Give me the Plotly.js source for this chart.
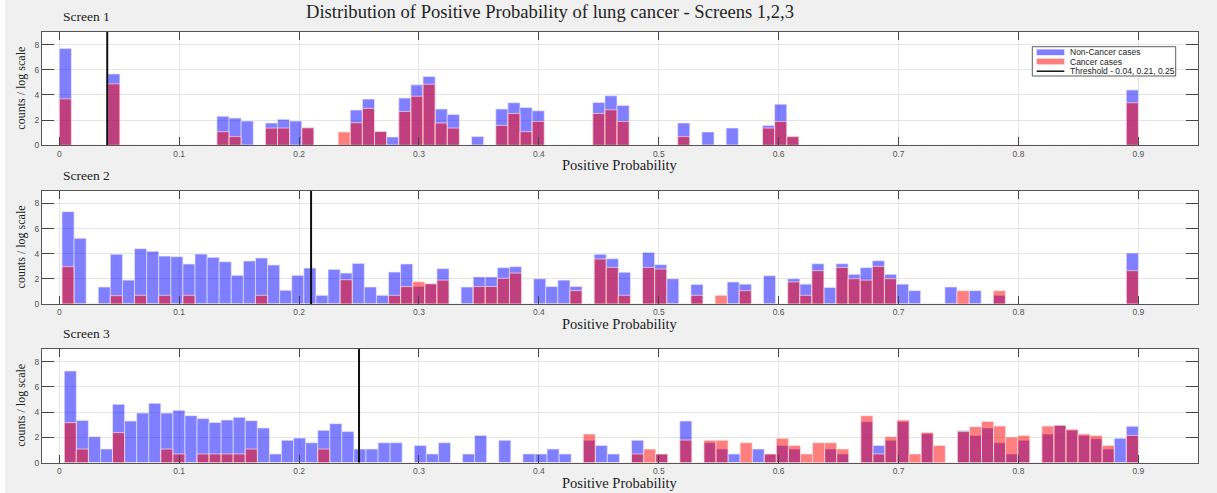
<!DOCTYPE html>
<html>
<head>
<meta charset="utf-8">
<script src="https://cdn.plot.ly/plotly-3.0.1.min.js"></script>
<style>
  html, body { margin: 0; padding: 0; background: #f0f0f0; }
  #chart { width: 1217px; height: 493px; }
</style>
</head>
<body>
<div id="chart"></div>
<script>
// Log-scaled histogram counts of the positive probability, 89 equal bins per screen
// (bins run from the smallest probability of each screen up to 0.9).
const screens = ['Screen 1', 'Screen 2', 'Screen 3'];
const binStart = [0.0, 0.00225, 0.00417];
const binEnd = 0.9;
const binCount = 89;

const nonCancer1 = [
  7.68, 0, 0, 0, 5.67, 0, 0, 0, 0, 0,
  0, 0, 0, 2.30, 2.16, 1.93, 0, 1.77, 2.06, 1.93,
  1.39, 0, 0, 0, 2.80, 3.67, 1.10, 0.66, 3.75, 4.80,
  5.46, 2.88, 2.45, 0, 0.69, 0, 2.88, 3.38, 3.00, 2.74,
  0, 0, 0, 0, 3.40, 3.93, 3.17, 0, 0, 0,
  0, 1.77, 0, 1.06, 0, 1.37, 0, 0, 1.58, 3.27,
  0.69, 0, 0, 0, 0, 0, 0, 0, 0, 0,
  0, 0, 0, 0, 0, 0, 0, 0, 0, 0,
  0, 0, 0, 0, 0, 0, 0, 0, 4.40
];
const cancer1 = [
  3.69, 0, 0, 0, 4.88, 0, 0, 0, 0, 0,
  0, 0, 0, 1.08, 0.69, 0, 0, 1.37, 1.37, 0,
  1.39, 0, 0, 1.06, 1.79, 2.93, 1.10, 0, 2.69, 3.90,
  4.85, 1.77, 1.37, 0, 0, 0, 1.58, 2.53, 1.08, 1.90,
  0, 0, 0, 0, 2.53, 2.82, 1.90, 0, 0, 0,
  0, 0.69, 0, 0, 0, 0, 0, 0, 1.37, 1.90,
  0.69, 0, 0, 0, 0, 0, 0, 0, 0, 0,
  0, 0, 0, 0, 0, 0, 0, 0, 0, 0,
  0, 0, 0, 0, 0, 0, 0, 0, 3.38
];

const nonCancer2 = [
  7.34, 5.22, 0, 1.35, 3.95, 1.90, 4.40, 4.19, 3.81, 3.76,
  3.18, 3.97, 3.71, 3.36, 2.28, 3.42, 3.66, 3.10, 1.09, 2.28,
  2.86, 0.69, 2.75, 2.46, 3.23, 1.35, 0.69, 2.54, 3.18, 1.39,
  1.61, 2.81, 0, 1.35, 2.15, 2.15, 2.89, 2.97, 0, 2.01,
  1.39, 1.90, 1.39, 0, 3.95, 3.60, 2.52, 0, 4.10, 3.13,
  2.01, 0, 1.56, 0, 0, 1.75, 1.58, 0, 2.25, 0,
  2.01, 1.58, 3.20, 1.32, 3.20, 2.36, 2.89, 3.44, 2.36, 1.58,
  1.06, 0, 0, 1.35, 0, 1.06, 0, 0.69, 0, 0,
  0, 0, 0, 0, 0, 0, 0, 0, 4.05
];
const cancer2 = [
  2.97, 0, 0, 0, 0.66, 0, 0.69, 0, 0.69, 0,
  0.69, 0, 0, 0, 0, 0, 0.69, 0, 0, 0,
  0, 0, 0, 1.93, 0, 0, 0, 0.69, 1.38, 1.77,
  1.61, 1.90, 0, 0, 1.39, 1.39, 2.04, 2.46, 0, 0,
  0, 0, 1.06, 0, 3.58, 2.91, 0.69, 0, 2.91, 2.78,
  0, 0, 0.69, 0, 0.69, 0, 1.06, 0, 0, 0,
  1.75, 0.69, 2.65, 0, 2.91, 2.01, 1.90, 2.99, 2.01, 0,
  0, 0, 0, 0, 1.06, 0, 0, 1.06, 0, 0,
  0, 0, 0, 0, 0, 0, 0, 0, 2.65
];

const nonCancer3 = [
  7.26, 3.35, 2.06, 1.08, 4.62, 3.30, 3.93, 4.70, 3.93, 4.15,
  3.72, 3.49, 3.19, 3.38, 3.59, 3.33, 2.75, 0.69, 1.77, 1.95,
  1.58, 2.56, 3.09, 2.46, 1.08, 1.08, 1.58, 1.58, 0, 1.37,
  0.69, 1.58, 0, 0.69, 2.16, 0, 1.77, 0, 0.69, 0.69,
  1.08, 0.69, 0, 1.77, 1.37, 0.69, 0, 1.77, 0, 0.69,
  0, 3.30, 0, 1.58, 1.08, 0.69, 0, 1.08, 0.69, 1.37,
  1.08, 0, 0, 1.08, 0.69, 0, 3.25, 1.37, 1.77, 3.25,
  0, 2.30, 0, 0, 2.53, 2.16, 2.75, 1.58, 0.69, 1.77,
  0, 2.27, 2.96, 2.56, 2.16, 1.90, 1.08, 1.93, 2.88
];
const cancer3 = [
  3.17, 1.08, 0, 0, 2.38, 0, 0, 0, 1.08, 0.69,
  0, 0.69, 0.69, 0.69, 0.69, 1.08, 0, 0, 0, 0,
  0, 1.08, 0, 0, 0, 0, 0, 0, 0, 0,
  0, 0, 0, 0, 0, 0, 0, 0, 0, 0,
  0, 0, 0, 2.27, 0, 0, 0, 0.69, 1.08, 0.69,
  0, 1.79, 0, 1.77, 1.77, 0, 1.58, 0, 0.69, 1.93,
  1.37, 0.69, 1.58, 1.58, 1.08, 0, 3.72, 0.69, 2.06, 3.38,
  0.69, 2.40, 1.37, 0, 2.46, 2.85, 3.27, 2.90, 2.03, 2.16,
  0, 2.90, 2.96, 2.64, 2.27, 2.16, 1.37, 0, 2.16
];

const nonCancer = [nonCancer1, nonCancer2, nonCancer3];
const cancer = [cancer1, cancer2, cancer3];
const thresholds = [0.04, 0.21, 0.25];

const seriesNames = ['Non-Cancer cases', 'Cancer cases'];
const thresholdLabel = 'Threshold - ' + thresholds.join(', ');
const xTickVals = [0, 0.1, 0.2, 0.3, 0.4, 0.5, 0.6, 0.7, 0.8, 0.9];
const xTickText = ['0', '0.1', '0.2', '0.3', '0.4', '0.5', '0.6', '0.7', '0.8', '0.9'];
const yTickVals = [0, 2, 4, 6, 8];
const yRange = [0, 9];
const xRange = [-0.0144, 0.9497];

const mainTitle = 'Distribution of Positive Probability of lung cancer - Screens 1,2,3';
const xTitle = 'Positive Probability';
const yTitle = 'counts / log scale';

// ---- page geometry (pixels) ----
const W = 1217, H = 493;
const fx = p => p / W;
const fy = p => 1 - p / H;
const plotLeft = 42, plotRight = 1198;
const panelTop = [32, 190.8, 349];
const panelBottom = [145.3, 304, 462.7];

const BLUE = 'rgba(0,0,255,0.5)';
const RED = 'rgba(255,0,0,0.5)';
const SERIF = '"Liberation Serif", "Times New Roman", serif';
const SANS = '"Liberation Sans", Arial, sans-serif';

function binCenters(start) {
  const w = (binEnd - start) / binCount;
  const c = [];
  for (let k = 0; k < binCount; k++) c.push(start + (k + 0.5) * w);
  return { centers: c, width: w };
}

const traces = [];
const layout = {
  width: W, height: H,
  margin: { l: 0, r: 0, t: 0, b: 0 },
  paper_bgcolor: '#f0f0f0',
  plot_bgcolor: '#ffffff',
  barmode: 'overlay',
  showlegend: false,
  annotations: [],
  shapes: []
};

for (let i = 0; i < 3; i++) {
  const sfx = i === 0 ? '' : String(i + 1);
  const xa = 'x' + sfx, ya = 'y' + sfx;
  const bins = binCenters(binStart[i]);

  traces.push({
    type: 'bar', name: seriesNames[0], x: bins.centers, y: nonCancer[i],
    width: bins.width, xaxis: xa, yaxis: ya,
    marker: { color: BLUE, line: { color: 'rgba(235,235,255,0.8)', width: 0.8 } },
    hoverinfo: 'x+y'
  });
  traces.push({
    type: 'bar', name: seriesNames[1], x: bins.centers, y: cancer[i],
    width: bins.width, xaxis: xa, yaxis: ya,
    marker: { color: RED, line: { color: 'rgba(255,235,235,0.8)', width: 0.8 } },
    hoverinfo: 'x+y'
  });
  traces.push({
    type: 'scatter', mode: 'lines', name: thresholdLabel,
    x: [thresholds[i], thresholds[i]], y: yRange,
    xaxis: xa, yaxis: ya,
    line: { color: '#111111', width: 2 }, hoverinfo: 'x'
  });

  layout['xaxis' + sfx] = {
    domain: [fx(plotLeft), fx(plotRight)], anchor: ya,
    range: xRange, tickvals: xTickVals, ticktext: xTickText,
    ticks: 'inside', ticklen: 8, tickwidth: 1, tickcolor: '#444',
    showline: true, linecolor: '#555', linewidth: 1, mirror: 'allticks',
    showgrid: true, gridcolor: '#e4e4e4', zeroline: false,
    tickfont: { family: SANS, size: 8.5, color: '#555' }
  };
  layout['yaxis' + sfx] = {
    domain: [fy(panelBottom[i]), fy(panelTop[i])], anchor: xa,
    range: yRange, tickvals: yTickVals,
    ticks: 'inside', ticklen: 12, tickwidth: 1, tickcolor: '#444',
    showline: true, linecolor: '#555', linewidth: 1, mirror: 'allticks',
    showgrid: true, gridcolor: '#e4e4e4', zeroline: false,
    tickfont: { family: SANS, size: 8.5, color: '#555' }
  };

  const mid = (panelTop[i] + panelBottom[i]) / 2;
  layout.annotations.push({
    text: screens[i], xref: 'paper', yref: 'paper',
    x: fx(60.5), y: fy(panelTop[i] - 15.5), xanchor: 'left', yanchor: 'middle',
    showarrow: false, font: { family: SERIF, size: 13.5, color: '#222' }
  });
  layout.annotations.push({
    text: xTitle, xref: 'paper', yref: 'paper',
    x: fx((plotLeft + plotRight) / 2), y: fy(panelBottom[i] + 20), xanchor: 'center', yanchor: 'middle',
    showarrow: false, font: { family: SERIF, size: 14.5, color: '#222' }
  });
  layout.annotations.push({
    text: yTitle, xref: 'paper', yref: 'paper', textangle: -90,
    x: fx(21), y: fy(mid), xanchor: 'center', yanchor: 'middle',
    showarrow: false, font: { family: SERIF, size: 12, color: '#222' }
  });
}

layout.annotations.push({
  text: mainTitle, xref: 'paper', yref: 'paper',
  x: fx(549.5), y: fy(11.5), xanchor: 'center', yanchor: 'middle',
  showarrow: false, font: { family: SERIF, size: 18.6, color: '#262626' }
});

// thin white strip on the left edge of the figure
layout.shapes.push({
  type: 'rect', xref: 'paper', yref: 'paper', layer: 'below',
  x0: 0, x1: fx(5), y0: 0, y1: 1, fillcolor: '#ffffff', line: { width: 0 }
});

// compact legend box in the first panel
const lg = { x0: 1032.3, x1: 1175.7, y0: 46.7, y1: 76 };
layout.shapes.push({
  type: 'rect', xref: 'paper', yref: 'paper',
  x0: fx(lg.x0), x1: fx(lg.x1), y0: fy(lg.y1), y1: fy(lg.y0),
  fillcolor: '#ffffff', line: { color: '#333', width: 0.8 }
});
const rowY = [52.3, 61.5, 71.2];
const swatchColors = [BLUE, RED];
for (let r = 0; r < 2; r++) {
  layout.shapes.push({
    type: 'rect', xref: 'paper', yref: 'paper',
    x0: fx(1036.7), x1: fx(1064.3), y0: fy(rowY[r] + 2.9), y1: fy(rowY[r] - 2.9),
    fillcolor: swatchColors[r], line: { width: 0 }
  });
}
layout.shapes.push({
  type: 'line', xref: 'paper', yref: 'paper',
  x0: fx(1036.7), x1: fx(1064.3), y0: fy(rowY[2]), y1: fy(rowY[2]),
  line: { color: '#111', width: 1.5 }
});
const legendLabels = [seriesNames[0], seriesNames[1], thresholdLabel];
legendLabels.forEach((t, r) => {
  layout.annotations.push({
    text: t, xref: 'paper', yref: 'paper',
    x: fx(1067.5), y: fy(rowY[r]), xanchor: 'left', yanchor: 'middle',
    showarrow: false, font: { family: SANS, size: 8.5, color: '#222' }
  });
});

Plotly.newPlot('chart', traces, layout, { displayModeBar: false, staticPlot: true });
</script>
</body>
</html>
